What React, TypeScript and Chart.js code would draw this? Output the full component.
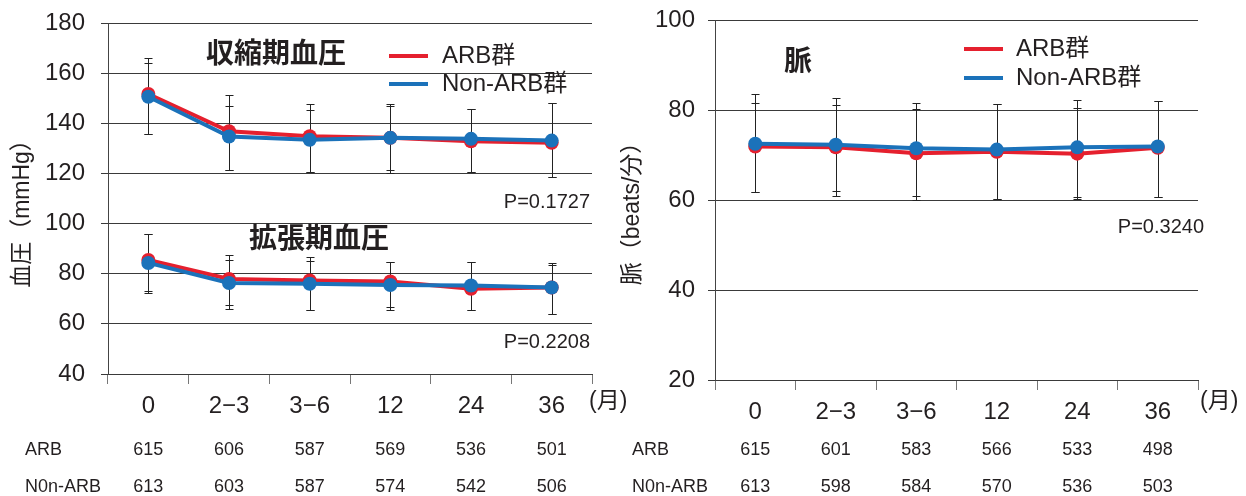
import React, { useEffect, useRef } from 'react';
import { Chart, registerables } from 'chart.js';

Chart.register(...registerables);

// ---------- data ----------
const months = ['0', '2−3', '3−6', '12', '24', '36'];

const sysARB = [151.7, 136.8, 134.8, 134.2, 132.8, 132.2];
const sysNon = [150.6, 134.7, 133.4, 134.2, 133.8, 133.1];
const sysARBHi = [166.2, 151.4, 147.5, 147.5, 145.6, 148.0];
const sysARBLo = [135.8, 121.2, 120.4, 120.3, 120.4, 118.5];
const sysNonHi = [164.0, 147.0, 145.3, 146.9, 145.6, 148.0];
const sysNonLo = [135.8, 121.2, 120.4, 121.2, 120.4, 118.5];

const diaARB = [85.5, 77.9, 77.3, 76.9, 74.0, 74.5];
const diaNon = [84.3, 76.3, 76.0, 75.5, 75.3, 74.5];
const diaARBHi = [95.8, 87.3, 86.6, 84.7, 84.5, 84.3];
const diaARBLo = [72.3, 66.0, 65.4, 65.4, 65.4, 64.0];
const diaNonHi = [95.8, 85.3, 84.9, 84.7, 84.5, 83.3];
const diaNonLo = [73.1, 67.4, 65.4, 66.7, 65.4, 64.0];

const pulseARB = [71.9, 71.7, 70.4, 70.7, 70.3, 71.6];
const pulseNon = [72.5, 72.3, 71.5, 71.2, 71.7, 71.9];
const pulseARBHi = [83.5, 82.6, 81.5, 81.4, 82.3, 81.9];
const pulseARBLo = [61.7, 60.8, 59.9, 60.2, 60.2, 60.6];
const pulseNonHi = [81.5, 81.1, 80.2, 81.4, 80.5, 81.9];
const pulseNonLo = [61.7, 61.9, 60.8, 60.2, 60.7, 60.6];

const bpNARB = [615, 606, 587, 569, 536, 501];
const bpNNon = [613, 603, 587, 574, 542, 506];
const pulseNARB = [615, 601, 583, 566, 533, 498];
const pulseNNon = [613, 598, 584, 570, 536, 503];

const seriesNames = ['ARB群', 'Non-ARB群'];
const rowNames = ['ARB', 'N0n-ARB'];

// ---------- styles ----------
const FONT = "'Liberation Sans', 'Noto Sans CJK JP', sans-serif";
const TEXT = '#231f20';
const GRID = '#3a3a3a';
const RED = '#e5202e';
const BLUE = '#1b72ba';

function lineDs(data: number[], hi: number[], lo: number[], color: string) {
  return {
    data,
    errHi: hi,
    errLo: lo,
    borderColor: color,
    backgroundColor: color,
    borderWidth: 4,
    pointRadius: 7,
    pointBorderWidth: 0,
    pointBackgroundColor: color,
    tension: 0,
    fill: false,
  } as any;
}

const errorBarPlugin = {
  id: 'errbars',
  beforeDatasetsDraw(chart: any) {
    const ctx = chart.ctx;
    const y = chart.scales.y;
    ctx.save();
    ctx.strokeStyle = '#222';
    ctx.lineWidth = 1;
    chart.data.datasets.forEach((ds: any, di: number) => {
      const meta = chart.getDatasetMeta(di);
      meta.data.forEach((pt: any, i: number) => {
        const x = Math.round(pt.x) + 0.5;
        const yh = Math.round(y.getPixelForValue(ds.errHi[i])) + 0.5;
        const yl = Math.round(y.getPixelForValue(ds.errLo[i])) + 0.5;
        ctx.beginPath();
        ctx.moveTo(x, yh);
        ctx.lineTo(x, yl);
        ctx.moveTo(x - 4, yh);
        ctx.lineTo(x + 4, yh);
        ctx.moveTo(x - 4, yl);
        ctx.lineTo(x + 4, yl);
        ctx.stroke();
      });
    });
    ctx.restore();
  },
};

type Decor = {
  titles: { text: string; x: number; y: number }[];
  legend: { lineX: number; textX: number; y1: number; y2: number };
  pvals: { text: string; x: number; y: number }[];
  yTitle: { text: string; x: number; y: number };
  unit: { x: number; y: number };
  table: { labelX: number; rows: number[][]; y: number[] };
};

function decorPlugin(d: Decor) {
  return {
    id: 'decor',
    afterDraw(chart: any) {
      const ctx = chart.ctx;
      const xs = chart.scales.x;
      ctx.save();
      ctx.fillStyle = TEXT;
      ctx.textBaseline = 'middle';
      // titles
      ctx.font = `bold 28px ${FONT}`;
      ctx.textAlign = 'left';
      d.titles.forEach((t) => ctx.fillText(t.text, t.x, t.y));
      // legend
      ctx.lineWidth = 4;
      [
        [RED, d.legend.y1, seriesNames[0]],
        [BLUE, d.legend.y2, seriesNames[1]],
      ].forEach(([c, yy, name]: any) => {
        ctx.strokeStyle = c;
        ctx.beginPath();
        ctx.moveTo(d.legend.lineX, yy);
        ctx.lineTo(d.legend.lineX + 39, yy);
        ctx.stroke();
        ctx.font = `24px ${FONT}`;
        ctx.fillStyle = TEXT;
        ctx.fillText(name, d.legend.textX, yy);
      });
      // p values
      ctx.font = `20px ${FONT}`;
      ctx.textAlign = 'right';
      d.pvals.forEach((p) => ctx.fillText(p.text, p.x, p.y));
      // unit
      ctx.font = `23px ${FONT}`;
      ctx.textAlign = 'left';
      ctx.fillText('(月)', d.unit.x, d.unit.y);
      // y title
      ctx.save();
      ctx.translate(d.yTitle.x, d.yTitle.y);
      ctx.rotate(-Math.PI / 2);
      ctx.textAlign = 'center';
      ctx.font = `23px ${FONT}`;
      ctx.fillText(d.yTitle.text, 0, 0);
      ctx.restore();
      // table
      ctx.font = `18px ${FONT}`;
      d.table.rows.forEach((row, r) => {
        ctx.textAlign = 'left';
        ctx.fillText(rowNames[r], d.table.labelX, d.table.y[r]);
        ctx.textAlign = 'center';
        row.forEach((v, i) => ctx.fillText(String(v), xs.getPixelForValue(i), d.table.y[r]));
      });
      ctx.restore();
    },
  };
}

function makeOptions(min: number, max: number, yWidth: number, xHeight: number, padTop: number, padRight: number, yPad: number) {
  return {
    responsive: false,
    animation: false as const,
    events: [] as any[],
    layout: { autoPadding: false, padding: { left: 0, right: padRight, top: padTop, bottom: 0 } },
    plugins: { legend: { display: false }, tooltip: { enabled: false }, title: { display: false } },
    scales: {
      x: {
        type: 'category' as const,
        offset: true,
        grid: { offset: true, drawOnChartArea: false, drawTicks: true, tickLength: 10, color: '#777' },
        border: { display: true, color: GRID, width: 1 },
        ticks: { font: { family: FONT, size: 24 }, color: TEXT, padding: 8, maxRotation: 0, autoSkip: false },
        afterFit: (s: any) => {
          s.height = xHeight;
          s.paddingLeft = 0;
          s.paddingRight = 0;
        },
      },
      y: {
        min,
        max,
        ticks: { stepSize: 20, font: { family: FONT, size: 24 }, color: TEXT, padding: yPad },
        grid: { color: GRID, lineWidth: 1, drawTicks: true, tickLength: 7 },
        border: { display: true, color: '#444', width: 1 },
        afterFit: (s: any) => {
          s.width = yWidth;
          s.paddingTop = 0;
          s.paddingBottom = 0;
        },
      },
    },
  };
}

function ChartCanvas({ config, width, height, left }: { config: () => any; width: number; height: number; left: number }) {
  const ref = useRef<HTMLCanvasElement>(null);
  useEffect(() => {
    if (!ref.current) return;
    const chart = new Chart(ref.current, config());
    return () => chart.destroy();
  }, []);
  return (
    <canvas
      ref={ref}
      width={width}
      height={height}
      style={{ position: 'absolute', left, top: 0, width, height }}
    />
  );
}

const leftConfig = () => ({
  type: 'line',
  data: {
    labels: months,
    datasets: [
      lineDs(sysNon, sysNonHi, sysNonLo, BLUE),
      lineDs(diaNon, diaNonHi, diaNonLo, BLUE),
      lineDs(sysARB, sysARBHi, sysARBLo, RED),
      lineDs(diaARB, diaARBHi, diaARBLo, RED),
    ],
  },
  options: makeOptions(40, 180, 108, 122, 23, 44, 16),
  plugins: [
    errorBarPlugin,
    decorPlugin({
      titles: [
        { text: '収縮期血圧', x: 206, y: 55 },
        { text: '拡張期血圧', x: 249, y: 240 },
      ],
      legend: { lineX: 389, textX: 442, y1: 56, y2: 84 },
      pvals: [
        { text: 'P=0.1727', x: 590, y: 202 },
        { text: 'P=0.2208', x: 590, y: 342 },
      ],
      yTitle: { text: '血圧（mmHg）', x: 23, y: 208 },
      unit: { x: 589, y: 402 },
      table: { labelX: 25, rows: [bpNARB, bpNNon], y: [450, 487] },
    }),
  ],
});

const rightConfig = () => ({
  type: 'line',
  data: {
    labels: months,
    datasets: [
      lineDs(pulseNon, pulseNonHi, pulseNonLo, BLUE),
      lineDs(pulseARB, pulseARBHi, pulseARBLo, RED),
    ],
  },
  options: makeOptions(20, 100, 95, 116, 20, 48, 13),
  plugins: [
    errorBarPlugin,
    decorPlugin({
      titles: [{ text: '脈', x: 164, y: 63 }],
      legend: { lineX: 344, textX: 396, y1: 49, y2: 78 },
      pvals: [{ text: 'P=0.3240', x: 584, y: 227 }],
      yTitle: { text: '脈（beats/分）', x: 13, y: 208 },
      unit: { x: 580, y: 402 },
      table: { labelX: 12, rows: [pulseNARB, pulseNNon], y: [450, 487] },
    }),
  ],
});

export default function App() {
  return (
    <div style={{ position: 'absolute', left: 0, top: 0, width: 1246, height: 496, background: '#fff', overflow: 'hidden' }}>
      <ChartCanvas config={leftConfig} width={636} height={496} left={0} />
      <ChartCanvas config={rightConfig} width={626} height={496} left={620} />
    </div>
  );
}
